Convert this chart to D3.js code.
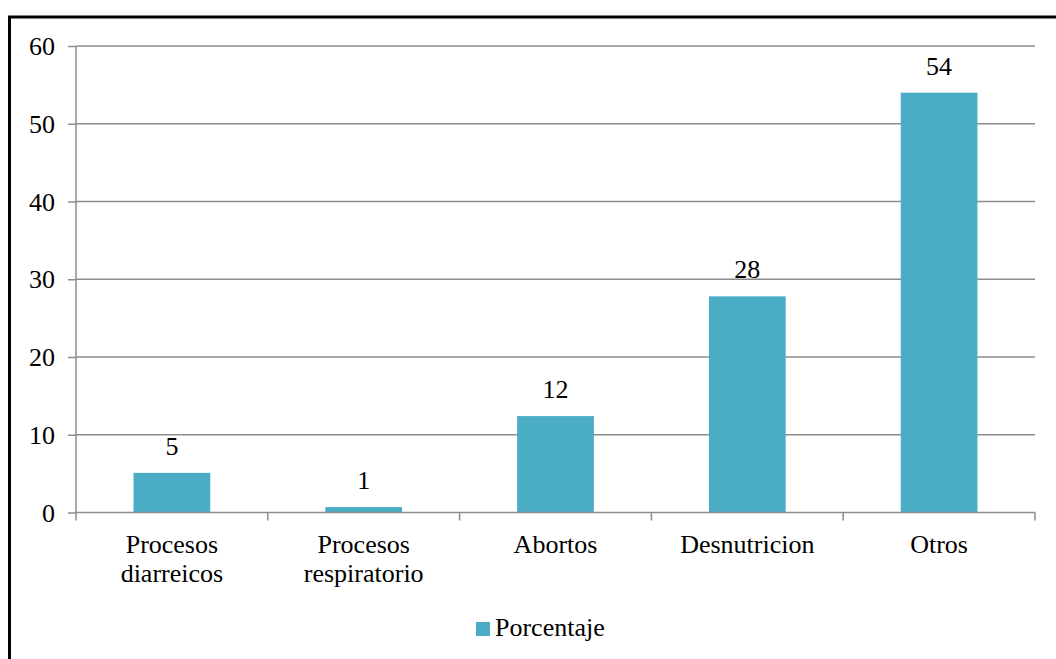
<!DOCTYPE html>
<html><head><meta charset="utf-8">
<script src="https://cdn.jsdelivr.net/npm/d3@7"></script>
<style>html,body{margin:0;padding:0;background:#fff;}svg{display:block;}
svg text{font-family:"Liberation Serif","Times New Roman",serif !important;}</style>
</head><body>
<svg id="c" width="1056" height="659"></svg>
<script>
const categories = [["Procesos","diarreicos"],["Procesos","respiratorio"],["Abortos"],["Desnutricion"],["Otros"]];
const values = [5.1, 0.7, 12.4, 27.8, 54];
const labels = ["5","1","12","28","54"];
const yTicks = [0,10,20,30,40,50,60];
const seriesName = "Porcentaje";

const svg = d3.select("#c");
const font = "Liberation Serif";
const gridColor = "#8c8c8c";
const barColor = "#4bacc6";
const pLeft = 76, pRight = 1035, pTop = 46, pBottom = 512.5;

// frame
svg.append("rect").attr("x",9.5).attr("y",17).attr("width",1100).attr("height",700)
  .attr("fill","none").attr("stroke","#000").attr("stroke-width",3);

const x = d3.scaleBand().domain(d3.range(categories.length)).range([pLeft,pRight]).paddingInner(0.6).paddingOuter(0.3);
const xb = d3.scaleBand().domain(d3.range(categories.length)).range([pLeft,pRight]);
const y = d3.scaleLinear().domain([0,60]).range([pBottom,pTop]);

// gridlines + y ticks
const yAxis = d3.axisLeft(y).tickValues(yTicks).tickSize(8).tickFormat(d=>d);
const gy = svg.append("g").attr("transform",`translate(${pLeft},0)`).call(yAxis)
  .attr("font-family",font).attr("font-size",26);
gy.select(".domain").remove();
gy.selectAll(".tick line").attr("stroke",gridColor).attr("stroke-width",1.5);
gy.selectAll(".tick text").attr("fill","#000").attr("x",-21).attr("dy","0.33em");
svg.append("g").selectAll("line").data(yTicks.filter(d=>d>0)).join("line")
  .attr("x1",pLeft).attr("x2",pRight).attr("y1",d=>y(d)).attr("y2",d=>y(d))
  .attr("stroke",gridColor).attr("stroke-width",1.5);
// y axis line
svg.append("line").attr("x1",pLeft).attr("x2",pLeft).attr("y1",pTop).attr("y2",pBottom)
  .attr("stroke",gridColor).attr("stroke-width",1.5);

// bars
svg.append("g").selectAll("rect").data(values).join("rect")
  .attr("x",(d,i)=>x(i)).attr("width",x.bandwidth())
  .attr("y",d=>y(d)).attr("height",d=>y(0)-y(d)).attr("fill",barColor);

// data labels
svg.append("g").selectAll("text").data(values).join("text")
  .attr("x",(d,i)=>x(i)+x.bandwidth()/2).attr("y",d=>y(d)-18)
  .attr("text-anchor","middle").attr("font-size",26).attr("fill","#000")
  .text((d,i)=>labels[i]);

// x axis
svg.append("line").attr("x1",pLeft).attr("x2",pRight).attr("y1",pBottom).attr("y2",pBottom)
  .attr("stroke",gridColor).attr("stroke-width",1.5);
const bounds = d3.range(categories.length).map(i=>xb(i)).concat([pRight]);
svg.append("g").selectAll("line").data(bounds).join("line")
  .attr("x1",d=>d).attr("x2",d=>d).attr("y1",pBottom).attr("y2",pBottom+8)
  .attr("stroke",gridColor).attr("stroke-width",1.5);
const cl = svg.append("g").selectAll("text").data(categories).join("text")
  .attr("x",(d,i)=>xb(i)+xb.bandwidth()/2).attr("y",553)
  .attr("text-anchor","middle").attr("font-size",26).attr("fill","#000");
cl.selectAll("tspan").data(d=>d).join("tspan")
  .attr("x",function(){return this.parentNode.getAttribute("x");})
  .attr("dy",(d,i)=>i===0?0:29).text(d=>d);

// legend
svg.append("rect").attr("x",476).attr("y",622).attr("width",14).attr("height",14).attr("fill",barColor);
svg.append("text").attr("x",495).attr("y",636).attr("font-size",26)
  .attr("fill","#000").text(seriesName);
</script>
</body></html>
